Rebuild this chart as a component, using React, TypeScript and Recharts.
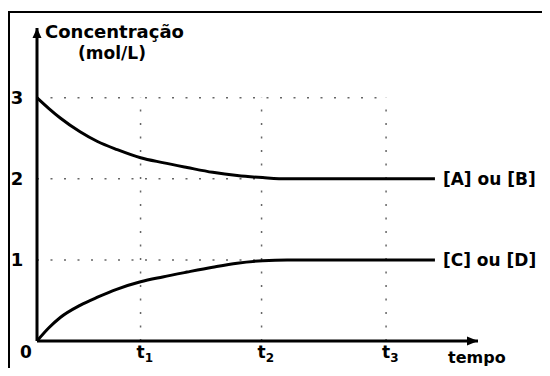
import React from 'react';
import {
  Line,
  LineChart,
  ReferenceDot,
  ReferenceLine,
  XAxis,
  YAxis
} from 'recharts';

// time positions (t3 = 3)
const T1 = 0.89;
const T2 = 1.93;
const T3 = 3;
const X_END = 3.79;
const Y_END = 3.86;

const times = [0, 0.1, 0.2, 0.37, 0.52, 0.69, 0.89, 1.08, 1.29, 1.51, 1.72, 1.94, 2.15, 3.42];
const reagents = [3, 2.87, 2.75, 2.58, 2.46, 2.36, 2.26, 2.2, 2.14, 2.08, 2.04, 2.015, 2.0, 2.0];
const products = [0, 0.16, 0.29, 0.44, 0.54, 0.64, 0.73, 0.79, 0.85, 0.91, 0.96, 0.99, 1.0, 1.0];

const xTicks = [0, T1, T2, T3];
const xTickLabels = ['0', '1', '2', '3'];
const yTicks = [1, 2, 3];

const data = times.map((t, i) => ({ t, ab: reagents[i], cd: products[i] }));

const FONT = '"DejaVu Sans", sans-serif';
const DOTS = { stroke: '#666', strokeWidth: 1.5, strokeDasharray: '2 11.5' };

const XTick = (props: any) => {
  const { x, y, index } = props;
  if (index === 0) {
    return (
      <text x={x - 11} y={y + 9} textAnchor="middle" fontFamily={FONT} fontWeight="bold" fontSize={17} fill="#000">0</text>
    );
  }
  return (
    <text x={x - 4} y={y + 9} textAnchor="start" fontFamily={FONT} fontWeight="bold" fontSize={17} fill="#000">
      t<tspan fontSize={12} dy={4}>{xTickLabels[index]}</tspan>
    </text>
  );
};

const YTick = (props: any) => {
  const { y, payload } = props;
  return (
    <text x={17} y={y} dy="0.36em" textAnchor="middle" fontFamily={FONT} fontWeight="bold" fontSize={18} fill="#000">
      {payload.value}
    </text>
  );
};

const textLabel = (value: string) => (p: any) => (
  <text x={p.cx + 8} y={p.cy} dy="0.36em" fontFamily={FONT} fontWeight="bold" fontSize={17} fill="#000">{value}</text>
);

const arrowRight = (p: any) => (
  <polygon points={`${p.cx},${p.cy} ${p.cx - 11},${p.cy - 4.5} ${p.cx - 11},${p.cy + 4.5}`} fill="#000" />
);

const arrowUp = (p: any) => (
  <polygon points={`${p.cx},${p.cy} ${p.cx - 4.5},${p.cy + 10} ${p.cx + 4.5},${p.cy + 10}`} fill="#000" />
);

const tempoLabel = (p: any) => (
  <text x={p.cx - 30} y={p.cy + 22} fontFamily={FONT} fontWeight="bold" fontSize={16} fill="#000">tempo</text>
);

const YTitle = () => (
  <g fontFamily={FONT} fontWeight="bold" fill="#000">
    <text x={45} y={38} fontSize={18}>Concentração</text>
    <text x={112} y={59} fontSize={17} textAnchor="middle">(mol/L)</text>
  </g>
);

export default function App() {
  return (
    <div style={{ position: 'relative', width: 550, height: 376, margin: -8, background: '#fff' }}>
      <div style={{ position: 'absolute', left: 8, top: 11, width: 537, height: 358, border: '2px solid #000' }} />
      <div style={{ position: 'absolute', left: 0, top: 0 }}>
        <LineChart width={550} height={376} data={data} margin={{ top: 28, right: 72, left: 0, bottom: 0 }}>
          <XAxis
            dataKey="t"
            type="number"
            domain={[0, X_END]}
            ticks={xTicks}
            tick={<XTick />}
            tickLine={false}
            height={35}
            axisLine={{ stroke: '#000', strokeWidth: 3 }}
          />
          <YAxis
            type="number"
            domain={[0, Y_END]}
            ticks={yTicks}
            tick={<YTick />}
            tickLine={false}
            width={37}
            axisLine={{ stroke: '#000', strokeWidth: 3 }}
            label={{ content: () => <YTitle /> }}
          />
          <ReferenceLine segment={[{ x: 0, y: 3 }, { x: T3, y: 3 }]} {...DOTS} />
          <ReferenceLine segment={[{ x: 0, y: 2 }, { x: T2, y: 2 }]} {...DOTS} />
          <ReferenceLine segment={[{ x: 0, y: 1 }, { x: T2, y: 1 }]} {...DOTS} />
          <ReferenceLine segment={[{ x: T1, y: 0 }, { x: T1, y: 3 }]} {...DOTS} />
          <ReferenceLine segment={[{ x: T2, y: 0 }, { x: T2, y: 3 }]} {...DOTS} />
          <ReferenceLine segment={[{ x: T3, y: 0 }, { x: T3, y: 3 }]} {...DOTS} />
          <Line type="monotone" dataKey="ab" stroke="#000" strokeWidth={3} dot={false} isAnimationActive={false} />
          <Line type="monotone" dataKey="cd" stroke="#000" strokeWidth={3} dot={false} isAnimationActive={false} />
          <ReferenceDot x={3.42} y={2} shape={textLabel('[A] ou [B]')} ifOverflow="visible" />
          <ReferenceDot x={3.42} y={1} shape={textLabel('[C] ou [D]')} ifOverflow="visible" />
          <ReferenceDot x={X_END} y={0} shape={arrowRight} ifOverflow="visible" />
          <ReferenceDot x={X_END} y={0} shape={tempoLabel} ifOverflow="visible" />
          <ReferenceDot x={0} y={Y_END} shape={arrowUp} ifOverflow="visible" />
        </LineChart>
      </div>
    </div>
  );
}
